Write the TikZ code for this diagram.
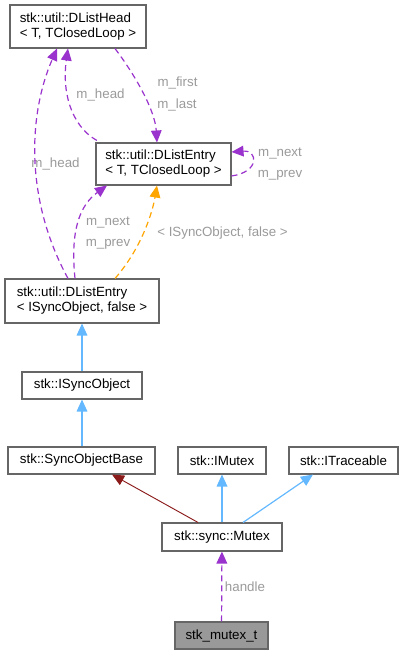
\documentclass[tikz,border=0pt]{standalone}
\usepackage{fontspec}
\setmainfont{Liberation Sans}
\usetikzlibrary{arrows.meta}
\definecolor{edgepurple}{HTML}{9A32CD}
\definecolor{edgeblue}{HTML}{63B8FF}
\definecolor{edgeorange}{HTML}{FFA500}
\definecolor{edgered}{HTML}{8B1A1A}
\definecolor{boxgray}{HTML}{666666}
\definecolor{labelgray}{HTML}{9A9A9A}
\definecolor{fillgray}{HTML}{999999}
\tikzset{
	usage/.style = {draw=edgepurple, dash pattern=on 4.5pt off 3pt},
	inherit/.style = {draw=edgeblue},
	templ/.style = {draw=edgeorange, dash pattern=on 4.5pt off 3pt},
	privinherit/.style = {draw=edgered}
}

\begin{document}
\begin{tikzpicture}[x=0.75pt, y=-0.75pt, font=\fontsize{10}{11.25}\selectfont]
	\useasboundingbox (0,0) rectangle (403,655);
	\begin{scope}[every node/.style = {draw=boxgray, line width=0.8pt, fill=white,
			align=left, inner sep=0pt, minimum height=20.25pt}]
		\node[minimum width=102pt, minimum height=32.25pt] (head) at (78,26.5) {stk::util::DListHead\\< T, TClosedLoop >};
		\node[minimum width=101.25pt, minimum height=31.5pt] (entryT) at (163.5,164) {stk::util::DListEntry\\< T, TClosedLoop >};
		\node[minimum width=115.5pt, minimum height=33pt] (entryS) at (82,301) {stk::util::DListEntry\\< ISyncObject, false >};
		\node[minimum width=90pt] (isync) at (82,385.5) {stk::ISyncObject};
		\node[minimum width=110.25pt] (base) at (81.5,460.5) {stk::SyncObjectBase};
		\node[minimum width=66pt] (imutex) at (222,460.5) {stk::IMutex};
		\node[minimum width=81.75pt] (itrace) at (343.5,460.5) {stk::ITraceable};
		\node[minimum width=90pt, minimum height=21pt] (mutex) at (222,537) {stk::sync::Mutex};
		\node[minimum width=69.75pt, fill=fillgray] (handle) at (221.5,635.5) {stk\_mutex\_t};
	\end{scope}
	\begin{scope}[every node/.style = {text=labelgray, inner sep=0pt}]
		\node (lfirst) at (177.5,83) {m\_first};
		\node (llast) at (177,105) {m\_last};
		\node (lheadA) at (100.5,95) {m\_head};
		\node (lnextA) at (280,154) {m\_next};
		\node (lprevA) at (280,175) {m\_prev};
		\node (lheadB) at (55.5,164) {m\_head};
		\node (lnextB) at (108,223) {m\_next};
		\node (lprevB) at (108,244) {m\_prev};
		\node (ltempl) at (222.5,233) {< ISyncObject, false >};
		\node (lhandle) at (245,587) {handle};
	\end{scope}
	\begin{scope}[>={Triangle[length=9pt, width=8pt]}, line width=0.9pt]
		\draw[usage, ->] ([xshift=27.75pt]head.south) .. controls (135,75) and (155,110) .. ([xshift=-4.9pt]entryT.north);
		\draw[usage, ->] ([xshift=1pt,yshift=1.5pt]entryT.north west) .. controls (70,125) and (62,90) .. ([xshift=-7.5pt]head.south);
		\draw[usage, ->] ([yshift=-9pt]entryT.east) .. controls (260,172) and (258,150) .. ([yshift=9pt]entryT.east);
		\draw[usage, ->] ([xshift=-10.5pt]entryS.north) .. controls (25,200) and (28,115) .. ([xshift=-15.75pt]head.south);
		\draw[usage, ->] ([xshift=-5.25pt]entryS.north) .. controls (70,230) and (80,205) .. ([xshift=-42.4pt]entryT.south);
		\draw[templ, ->] ([xshift=24.75pt]entryS.north) .. controls (140,250) and (152,215) .. ([xshift=-4.9pt]entryT.south);
		\path[->] (isync) edge[inherit] (entryS);
		\path[->] (base.north -| isync.south) edge[inherit] (isync);
		\path[->] ([xshift=-18pt]mutex.north) edge[privinherit, line width=0.7pt] ([xshift=22.9pt]base.south);
		\path[->] (mutex) edge[inherit] (imutex);
		\path[->] ([xshift=15.75pt]mutex.north) edge[inherit] ([xshift=-22.9pt]itrace.south);
		\path[->] (handle) edge[usage] (mutex);
	\end{scope}
\end{tikzpicture}
\end{document}
